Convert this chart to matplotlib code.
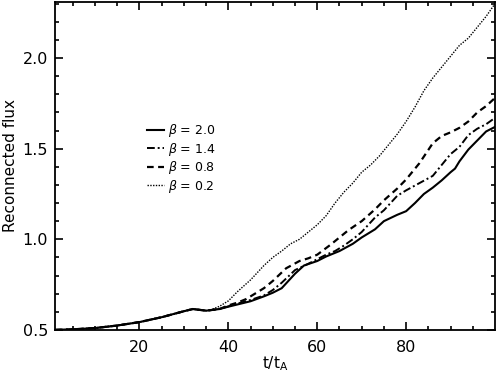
import numpy as np
import matplotlib.pyplot as plt

# shared early part (all runs overlap up to t ~ 38)
t_common = [1, 5, 10, 15, 20, 25, 30, 32, 35, 38]
f_common = [0.500, 0.503, 0.510, 0.524, 0.543, 0.570, 0.603, 0.615, 0.606, 0.615]

t_b20 = [40, 42, 45, 48, 50, 52, 55, 57, 60, 62, 65, 68, 70, 73, 75, 78, 80, 82, 84, 86, 88, 90, 91, 92, 94, 96, 98, 100]
f_b20 = [0.628, 0.640, 0.658, 0.685, 0.705, 0.730, 0.810, 0.855, 0.880, 0.905, 0.935, 0.975, 1.010, 1.055, 1.100, 1.135,
         1.155, 1.200, 1.250, 1.285, 1.325, 1.370, 1.390, 1.430, 1.495, 1.545, 1.595, 1.620]

t_b14 = [40, 42, 45, 48, 50, 52, 55, 58, 60, 62, 64, 66, 68, 70, 73, 75, 78, 80, 83, 86, 88, 90, 92, 94, 96, 98, 100]
f_b14 = [0.630, 0.645, 0.665, 0.690, 0.720, 0.760, 0.830, 0.865, 0.890, 0.915, 0.935, 0.965, 1.000, 1.040, 1.120, 1.160,
         1.240, 1.270, 1.310, 1.350, 1.410, 1.470, 1.510, 1.575, 1.610, 1.635, 1.670]

t_b08 = [40, 42, 44, 46, 48, 50, 53, 56, 58, 60, 63, 65, 67, 70, 73, 75, 78, 80, 83, 86, 88, 90, 92, 94, 96, 98, 100]
f_b08 = [0.635, 0.650, 0.670, 0.700, 0.730, 0.770, 0.840, 0.880, 0.895, 0.915, 0.970, 1.010, 1.050, 1.100, 1.165, 1.215,
         1.280, 1.330, 1.420, 1.530, 1.570, 1.590, 1.615, 1.650, 1.700, 1.735, 1.780]

t_b02 = [36, 38, 40, 42, 45, 48, 50, 52, 54, 56, 58, 60, 62, 64, 66, 68, 70, 72, 74, 76, 78, 80, 82, 84, 86, 88, 90,
         92, 94, 96, 98, 100]
f_b02 = [0.610, 0.630, 0.660, 0.710, 0.776, 0.855, 0.900, 0.935, 0.975, 1.000, 1.040, 1.080, 1.130, 1.200, 1.260, 1.310,
         1.370, 1.410, 1.460, 1.520, 1.580, 1.650, 1.730, 1.820, 1.890, 1.950, 2.010, 2.070, 2.110, 2.170, 2.230, 2.300]

plt.rcParams['font.family'] = ['DejaVu Sans']

fig = plt.figure(figsize=(4.96, 3.77), dpi=100)
ax = fig.add_axes([0.111, 0.125, 0.887, 0.870])

ax.plot(t_common + t_b20, f_common + f_b20, 'k-', lw=1.5, label=r'$\beta$ = 2.0')
ax.plot(t_common + t_b14, f_common + f_b14, 'k', ls=(0, (4, 1.5, 1, 1.5)), lw=1.4, label=r'$\beta$ = 1.4')
ax.plot(t_common + t_b08, f_common + f_b08, 'k', ls=(0, (3, 2)), lw=1.6, label=r'$\beta$ = 0.8')
ax.plot(t_common + t_b02, f_common + f_b02, 'k', ls=(0, (1, 1)), lw=1.0, label=r'$\beta$ = 0.2')

ax.set_xlim(1, 100)
ax.set_ylim(0.5, 2.31)
ax.set_xticks([20, 40, 60, 80])
ax.set_xticks(np.arange(5, 100, 5), minor=True)
ax.set_yticks([0.5, 1.0, 1.5, 2.0])
ax.set_yticks(np.arange(0.5, 2.31, 0.1), minor=True)
ax.tick_params(which='both', direction='in', top=True, right=True, labelsize=11.5, width=1.2)
ax.tick_params(which='major', length=6)
ax.tick_params(axis='x', which='major', pad=7)
ax.tick_params(axis='y', which='major', pad=5)
ax.tick_params(which='minor', length=3)
for s in ax.spines.values():
    s.set_linewidth(1.3)

ax.set_xlabel(r't/t$_\mathrm{A}$', fontsize=11, labelpad=0)
ax.set_ylabel('Reconnected flux', fontsize=11, labelpad=3)

ax.legend(loc='upper left', bbox_to_anchor=(0.183, 0.668), frameon=False, fontsize=9,
          handlelength=1.35, handletextpad=0.35, labelspacing=0.12)

fig.savefig('out.png', dpi=100)
